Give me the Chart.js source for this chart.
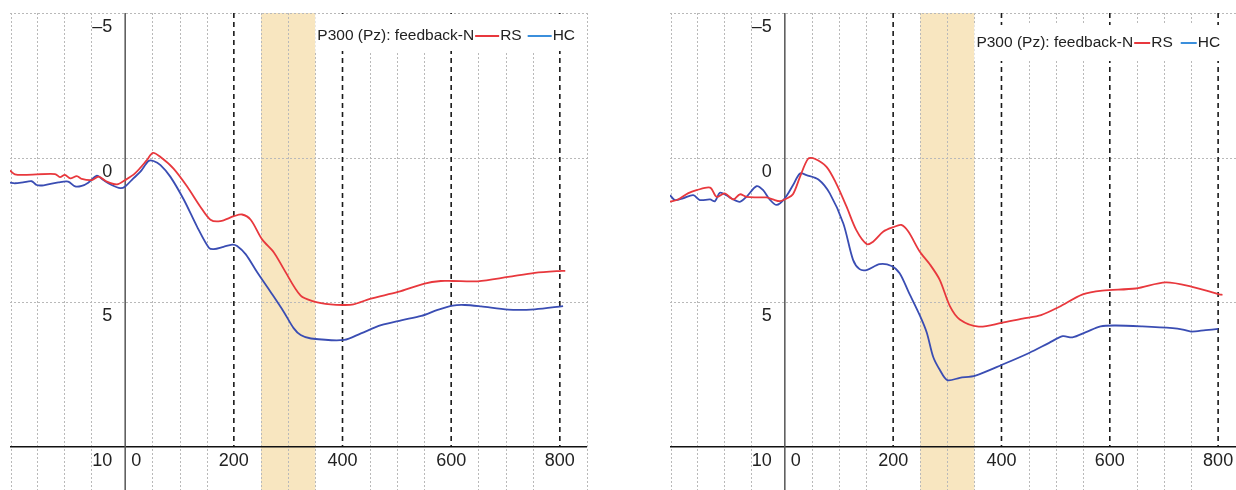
<!DOCTYPE html>
<html>
<head>
<meta charset="utf-8">
<script src="https://cdn.jsdelivr.net/npm/chart.js@4.4.1/dist/chart.umd.min.js"></script>
<style>
  html, body { margin: 0; padding: 0; background: #fff; }
  body { width: 1236px; height: 490px; position: relative; overflow: hidden; }
  .panel { position: absolute; top: 0; height: 490px; }
</style>
</head>
<body>
<div class="panel" style="left:0;width:620px"><canvas id="leftChart"></canvas></div>
<div class="panel" style="left:660px;width:576px"><canvas id="rightChart"></canvas></div>
<script>
// time (ms) / amplitude (uV)
const leftRsTime = [-212, -203, -185, -129, -120, -111, -101, -89, -80, -61, -49, -34, -15, 0, 18, 40, 51, 65, 89, 114, 138, 157, 175, 200, 215, 231, 252, 274, 292, 323, 348, 378, 402, 420, 452, 502, 551, 581, 602, 649, 705, 754, 803, 810];
const leftRsValues = [0.45, 0.58, 0.6, 0.57, 0.68, 0.6, 0.72, 0.64, 0.74, 0.78, 0.66, 0.83, 0.93, 0.78, 0.55, 0.09, -0.16, -0.02, 0.38, 1.0, 1.69, 2.15, 2.2, 2.03, 1.97, 2.15, 2.83, 3.29, 3.86, 4.78, 4.98, 5.08, 5.1, 5.08, 4.88, 4.65, 4.36, 4.27, 4.27, 4.28, 4.13, 3.99, 3.92, 3.92];

const leftHcTime = [-212, -203, -188, -172, -163, -150, -123, -105, -92, -80, -68, -52, -40, -25, -9, 0, 15, 28, 43, 52, 65, 83, 108, 132, 154, 163, 181, 197, 206, 222, 243, 268, 292, 310, 323, 342, 403, 434, 471, 508, 545, 575, 603, 625, 655, 705, 754, 806];
const leftHcValues = [0.87, 0.89, 0.86, 0.82, 0.95, 0.96, 0.86, 0.83, 1.0, 0.98, 0.87, 0.63, 0.78, 0.95, 1.06, 1.0, 0.72, 0.49, 0.12, 0.12, 0.26, 0.66, 1.46, 2.38, 3.12, 3.17, 3.09, 3.01, 3.06, 3.35, 3.97, 4.66, 5.34, 5.9, 6.14, 6.26, 6.31, 6.08, 5.8, 5.63, 5.48, 5.27, 5.12, 5.1, 5.15, 5.26, 5.25, 5.14];

const rightRsTime = [-212, -197, -179, -163, -138, -126, -111, -95, -83, -71, -52, -34, -22, -9, 3, 15, 28, 43, 55, 77, 95, 114, 132, 151, 163, 182, 200, 215, 228, 249, 268, 286, 305, 323, 358, 400, 439, 473, 506, 550, 586, 648, 703, 752, 802, 808];
const rightRsValues = [1.53, 1.45, 1.24, 1.13, 1.04, 1.36, 1.24, 1.45, 1.27, 1.36, 1.38, 1.38, 1.45, 1.51, 1.42, 1.27, 0.67, 0.04, 0.04, 0.32, 0.9, 1.7, 2.51, 2.99, 2.91, 2.56, 2.41, 2.33, 2.56, 3.25, 3.7, 4.23, 5.15, 5.6, 5.85, 5.72, 5.57, 5.45, 5.17, 4.73, 4.6, 4.53, 4.32, 4.47, 4.73, 4.75];

const rightHcTime = [-212, -203, -188, -169, -157, -138, -129, -120, -108, -99, -83, -71, -52, -40, -28, -15, 0, 15, 28, 40, 62, 83, 108, 126, 138, 151, 175, 197, 212, 228, 249, 262, 274, 286, 300, 323, 352, 402, 451, 488, 513, 531, 556, 583, 611, 660, 716, 735, 750, 777, 800];
const rightHcValues = [1.3, 1.47, 1.41, 1.3, 1.47, 1.45, 1.51, 1.22, 1.3, 1.41, 1.53, 1.36, 0.99, 1.13, 1.45, 1.64, 1.41, 0.96, 0.55, 0.61, 0.76, 1.24, 2.28, 3.54, 3.86, 3.89, 3.69, 3.75, 4.0, 4.63, 5.45, 6.05, 6.9, 7.34, 7.7, 7.62, 7.54, 7.16, 6.76, 6.41, 6.18, 6.22, 6.04, 5.84, 5.81, 5.84, 5.9, 5.95, 6.02, 5.97, 5.93];

// axes / markers
const yTicks = [-5, 0, 5, 10];
const xTickLabels = [0, 200, 400, 600, 800];
const dashedTimes = [200, 400, 600, 800];
const minorGridTimes = [-212, -162, -112, -62, 50, 100, 150, 250, 300, 350, 450, 500, 550, 650, 700, 750, 850];
const windowRange = [250, 350];
const legendTitle = 'P300 (Pz): feedback-N';
const seriesNames = ['RS', 'HC'];

const FONT = '"Liberation Sans", Arial, Helvetica, sans-serif';
const RED = '#e8383d';
const BLUE = '#3a4db3';
const LEGEND_BLUE = '#3b8fdc';

function pts(t, v) {
  return t.map((x, i) => ({ x: x, y: v[i] }));
}

const erpPlugin = {
  id: 'erp',
  beforeDatasetsDraw(chart, args, opts) {
    const ctx = chart.ctx;
    const xs = chart.scales.x, ys = chart.scales.y;
    const area = chart.chartArea;
    ctx.save();

    // shaded window
    ctx.fillStyle = '#f8e6c0';
    const b0 = xs.getPixelForValue(windowRange[0]);
    const b1 = xs.getPixelForValue(windowRange[1]);
    ctx.fillRect(b0, area.top, b1 - b0, area.bottom - area.top);

    // dotted grid
    ctx.strokeStyle = '#b9b9b9';
    ctx.lineWidth = 1;
    ctx.setLineDash([2, 2]);
    minorGridTimes.forEach(t => {
      if (t < xs.min || t > xs.max) return;
      const px = Math.round(Math.min(Math.max(xs.getPixelForValue(t), area.left + 0.5), area.right - 0.5)) + 0.5;
      ctx.beginPath();
      ctx.moveTo(px, area.top);
      ctx.lineTo(px, area.bottom);
      ctx.stroke();
    });
    yTicks.slice(0, 3).forEach(v => {
      const py = Math.round(ys.getPixelForValue(v)) + 0.5;
      ctx.beginPath();
      ctx.moveTo(area.left, py);
      ctx.lineTo(area.right, py);
      ctx.stroke();
    });

    // black dashed markers
    const axisY = ys.getPixelForValue(10);
    ctx.strokeStyle = '#1a1a1a';
    ctx.lineWidth = 1.6;
    ctx.setLineDash([5, 4]);
    dashedTimes.forEach(t => {
      const px = xs.getPixelForValue(t);
      ctx.beginPath();
      ctx.moveTo(px, area.top);
      ctx.lineTo(px, axisY);
      ctx.stroke();
    });
    ctx.setLineDash([]);

    // x axis and y axis
    ctx.strokeStyle = '#111';
    ctx.lineWidth = 1.5;
    ctx.beginPath();
    ctx.moveTo(area.left, axisY);
    ctx.lineTo(area.right, axisY);
    ctx.stroke();
    const zeroX = xs.getPixelForValue(0);
    ctx.strokeStyle = '#555';
    ctx.beginPath();
    ctx.moveTo(zeroX, area.top);
    ctx.lineTo(zeroX, area.bottom);
    ctx.stroke();

    // legend box
    const lg = opts.legend;
    ctx.fillStyle = '#fff';
    ctx.fillRect(b1, lg.top, area.right - 1 - b1, lg.bottom - lg.top);
    ctx.font = '15.5px ' + FONT;
    ctx.textBaseline = 'middle';
    ctx.textAlign = 'left';
    ctx.fillStyle = '#222';
    let cx = b1 + 2;
    ctx.fillText(legendTitle, cx, lg.textY);
    cx += ctx.measureText(legendTitle).width + 1;
    const drawKey = (color, name, gap) => {
      ctx.strokeStyle = color;
      ctx.lineWidth = 2;
      ctx.beginPath();
      ctx.moveTo(cx, lg.textY);
      ctx.lineTo(cx + lg.lineLen, lg.textY);
      ctx.stroke();
      cx += lg.lineLen + 1;
      ctx.fillText(name, cx, lg.textY);
      cx += ctx.measureText(name).width + gap;
    };
    drawKey(RED, seriesNames[0], lg.gap);
    drawKey(LEGEND_BLUE, seriesNames[1], 0);

    // tick labels
    ctx.font = '18px ' + FONT;
    ctx.fillStyle = '#222';
    ctx.textAlign = 'right';
    yTicks.forEach(v => {
      const label = v < 0 ? '\u2013' + Math.abs(v) : String(v);
      ctx.fillText(label, zeroX - 13, ys.getPixelForValue(v) + 14);
    });
    xTickLabels.forEach(t => {
      ctx.textAlign = t === 0 ? 'left' : 'center';
      const px = t === 0 ? zeroX + 6 : xs.getPixelForValue(t);
      ctx.fillText(String(t), px, axisY + 14);
    });
    ctx.restore();
  }
};

function makeChart(id, rs, hc, xMax, padRight, legend) {
  return new Chart(document.getElementById(id), {
    type: 'line',
    data: {
      datasets: [
        { label: seriesNames[0], data: rs, borderColor: RED, borderWidth: 1.8, pointRadius: 0, tension: 0.3, fill: false },
        { label: seriesNames[1], data: hc, borderColor: BLUE, borderWidth: 1.8, pointRadius: 0, tension: 0.3, fill: false }
      ]
    },
    options: {
      responsive: true,
      maintainAspectRatio: false,
      animation: false,
      events: [],
      layout: { padding: { left: 10, right: padRight, top: 13, bottom: 0 } },
      plugins: { legend: { display: false }, tooltip: { enabled: false }, erp: { legend: legend } },
      scales: {
        x: { type: 'linear', min: -212, max: xMax, display: false },
        y: { min: -5, max: 11.5, reverse: true, display: false }
      }
    },
    plugins: [erpPlugin]
  });
}

makeChart('leftChart', pts(leftRsTime, leftRsValues), pts(leftHcTime, leftHcValues), 850, 33,
  { top: 14, bottom: 51, textY: 36, lineLen: 24, gap: 6 });
makeChart('rightChart', pts(rightRsTime, rightRsValues), pts(rightHcTime, rightHcValues), 833, 0,
  { top: 25, bottom: 61, textY: 43, lineLen: 16, gap: 8 });
</script>
</body>
</html>
